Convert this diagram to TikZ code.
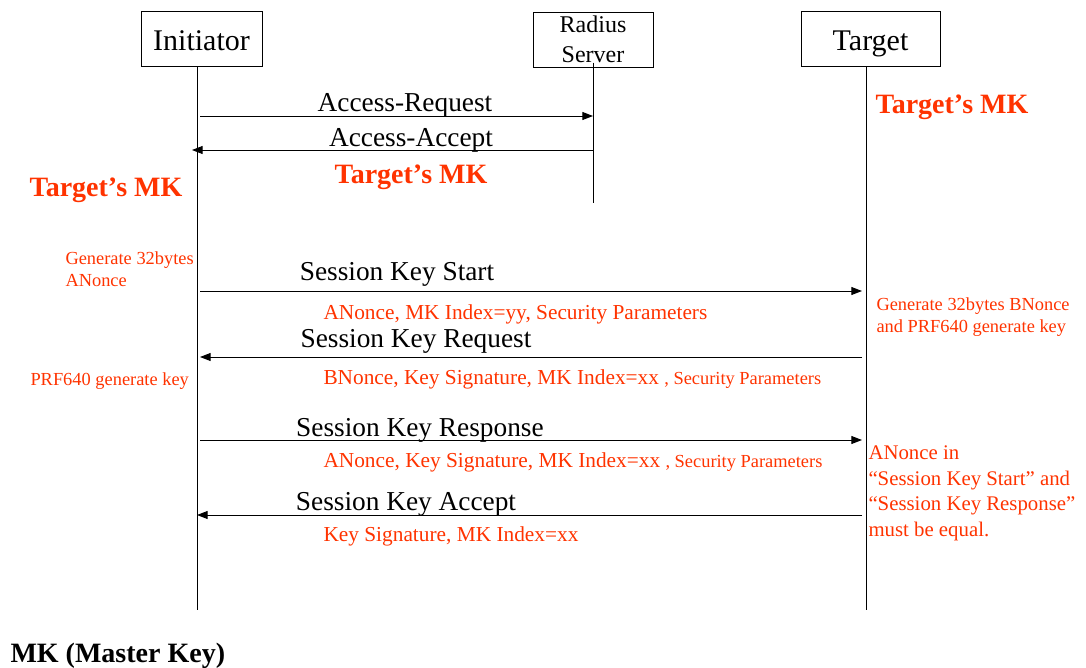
\documentclass[tikz,border=0pt]{standalone}
\usepackage{fontspec}
\setmainfont{Liberation Serif}
\usetikzlibrary{arrows.meta}

\definecolor{keyred}{RGB}{255,51,0}

\tikzset{every picture/.style={line width=0.75pt}}
\tikzset{
  actor/.style={draw, inner sep=0pt, minimum height=41.25pt, align=center},
  msg/.style={-{Triangle[length=8pt,width=6pt]}},
  msglabel/.style={anchor=base, inner sep=0pt, font=\fontsize{20.5}{24}\selectfont},
  param/.style={anchor=base west, inner sep=0pt, text=keyred, font=\fontsize{16}{19}\selectfont},
  note/.style={anchor=north west, inner sep=0pt, align=left, text=keyred, font=\fontsize{13.8}{16.5}\selectfont},
  mkred/.style={anchor=base, inner sep=0pt, text=keyred, font=\bfseries\fontsize{21}{24}\selectfont},
}

\begin{document}
\begin{tikzpicture}[x=0.75pt,y=0.75pt,yscale=-1,xscale=1]
    \useasboundingbox (0,0) rectangle (1086,668);

    % Actor boxes
    \node [actor, minimum width=90.75pt, text height=18pt, text depth=0pt, font=\fontsize{22.5}{26}\selectfont] (ini) at (201.5,38.5) {Initiator};
    \node [actor, minimum width=90pt, font=\fontsize{18}{22.5}\selectfont] (rad) at (593,39.5) {Radius\\Server};
    \node [actor, minimum width=104.25pt, text height=18pt, text depth=0pt, font=\fontsize{22.5}{26}\selectfont] (tgt) at (870.5,38.5) {Target};

    % Lifeline ends
    \coordinate (ini-end) at (197,610);
    \coordinate (rad-end) at (593,203);
    \coordinate (tgt-end) at (866,610);

    %Straight Lines
    \draw (ini.south -| ini-end) -- (ini-end);
    %Straight Lines
    \draw ([yshift=-3.75pt]rad.south -| rad-end) -- (rad-end);
    %Straight Lines
    \draw (tgt.south -| tgt-end) -- (tgt-end);

    % Message end points
    \coordinate (areq-s) at (200,116);
    \coordinate (areq-e) at (593,116);
    \coordinate (aacc-s) at (593,150);
    \coordinate (aacc-e) at (192,150);
    \coordinate (skst-s) at (200,291);
    \coordinate (skst-e) at (862,291);
    \coordinate (skrq-s) at (862,357);
    \coordinate (skrq-e) at (200,357);
    \coordinate (skrs-s) at (200,440);
    \coordinate (skrs-e) at (862,440);
    \coordinate (skac-s) at (862,515);
    \coordinate (skac-e) at (197,515);

    %Straight Lines
    \draw [msg] (areq-s) -- (areq-e);
    %Straight Lines
    \draw [msg] (aacc-s) -- (aacc-e);
    %Straight Lines
    \draw [msg] (skst-s) -- (skst-e);
    %Straight Lines
    \draw [msg] (skrq-s) -- (skrq-e);
    %Straight Lines
    \draw [msg] (skrs-s) -- (skrs-e);
    %Straight Lines
    \draw [msg] (skac-s) -- (skac-e);

    % Text Node
    \node [msglabel] (areq) at (405,111) {Access-Request};
    % Text Node
    \node [msglabel] (aacc) at (411,146) {Access-Accept};
    % Text Node
    \node [msglabel] (skst) at (397,280) {Session Key Start};
    % Text Node
    \node [msglabel] (skrq) at (416,347) {Session Key Request};
    % Text Node
    \node [msglabel] (skrs) at (420,436) {Session Key Response};
    % Text Node
    \node [msglabel] (skac) at (406,510) {Session Key Accept};

    % Text Node
    \node [mkred] (mk-rad) at (411,183) {Target’s MK};
    % Text Node
    \node [mkred] (mk-ini) at (106,196) {Target’s MK};
    % Text Node
    \node [mkred] (mk-tgt) at (952,113) {Target’s MK};

    % Text Node
    \node [param] (p-skst) at (323,319) {ANonce, MK Index=yy, Security Parameters};
    % Text Node
    \node [param] (p-skrq) at (323,384) {BNonce, Key Signature, MK Index=xx {\fontsize{13.8}{16}\selectfont, Security Parameters}};
    % Text Node
    \node [param] (p-skrs) at (323,467) {ANonce, Key Signature, MK Index=xx {\fontsize{13.8}{16}\selectfont, Security Parameters}};
    % Text Node
    \node [param] (p-skac) at (323,541) {Key Signature, MK Index=xx};

    % Text Node
    \node [note] (n-anonce) at (65,251) {Generate 32bytes\\ANonce};
    % Text Node
    \node [note] (n-prf-i) at (30,372) {PRF640 generate key};
    % Text Node
    \node [note] (n-bnonce) at (876,297) {Generate 32bytes BNonce\\and PRF640 generate key};
    % Text Node
    \node [note, font=\fontsize{15.6}{19.3}\selectfont] (n-equal) at (868,445) {ANonce in\\“Session Key Start” and\\“Session Key Response”\\must be equal.};

    % Text Node
    \node [anchor=base west, inner sep=0pt, font=\bfseries\fontsize{21}{24}\selectfont] (legend) at (10,662) {MK (Master Key)};

\end{tikzpicture}
\end{document}
